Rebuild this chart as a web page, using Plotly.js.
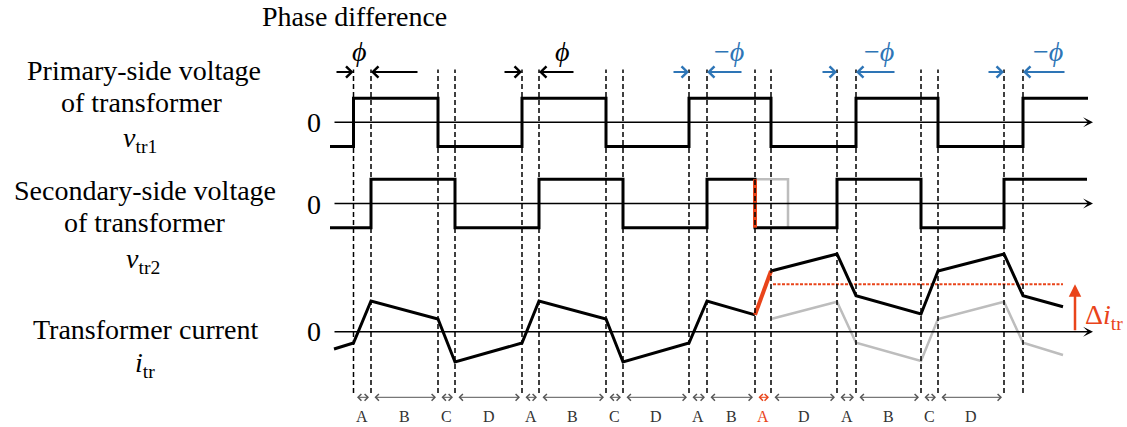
<!DOCTYPE html>
<html><head><meta charset="utf-8">
<script src="https://cdn.plot.ly/plotly-3.0.1.min.js"></script>
<style>html,body{margin:0;padding:0;background:#fff;}</style>
</head><body>
<div id="chart" style="width:1127px;height:427px;"></div>
<script>
// ---- data (time in arbitrary units, t = 0 at start of the traces) ----
const switchTimes = [23.5, 41, 108, 125, 192, 209, 276, 293, 359, 377, 425, 441, 507, 526, 591, 608, 674, 693];
const intervalLabels = ['A','B','C','D','A','B','C','D','A','B','A','D','A','B','C','D'];
const intervalHighlight = [0,0,0,0,0,0,0,0,0,0,1,0,0,0,0,0];

const vtr1Times  = [0, 23.5, 108, 192, 276, 359, 441, 526, 608, 693, 758];
const vtr1Levels = [-1, 1, -1, 1, -1, 1, -1, 1, -1, 1, 1];

const vtr2Times  = [0, 41, 125, 209, 293, 377, 425, 507, 591, 674, 757];
const vtr2Levels = [-1, 1, -1, 1, -1, 1, -1, 1, -1, 1, 1];
const vtr2StepTimes  = [425, 425];
const vtr2StepLevels = [1, -1];
const vtr2OrigTimes  = [425, 458, 458];
const vtr2OrigLevels = [1, 1, -1];

const itrTimes1  = [4, 23.5, 41, 108, 125, 192, 209, 276, 293, 359, 377, 425];
const itrValues1 = [-0.72, -0.47, 1.28, 0.53, -1.26, -0.47, 1.28, 0.53, -1.26, -0.47, 1.28, 0.70];
const itrStepTimes  = [425, 441];
const itrStepValues = [0.70, 2.53];
const itrTimes2  = [441, 507, 526, 591, 608, 674, 693, 733];
const itrValues2 = [2.53, 3.24, 1.50, 0.74, 2.53, 3.24, 1.50, 1.04];
const itrOrigValues = [0.53, 1.25, -0.46, -1.22, 0.53, 1.25, -0.46, -0.97];

const deltaTimes = [443, 733];
const deltaLevel = 1.975;
const deltaArrowTime = 745;

const phaseRightTail = [5, 173, 342, 491, 657];
const phaseRightHead = [23.5, 192, 359, 507, 674];
const phaseLeftTail  = [89, 245, 413, 566, 736];
const phaseLeftHead  = [41, 209, 377, 526, 693];
const phaseLabels    = ['<i>ϕ</i>', '<i>ϕ</i>', '−<i>ϕ</i>', '−<i>ϕ</i>', '−<i>ϕ</i>'];
const phaseLabelTimes = [29, 232, 399, 549, 718];
const phaseNegative  = [0, 0, 1, 1, 1];

const axisStart = 3, axisEnd = 763;

// ---- styling ----
const H = 427, W = 1127;
const BLUE = '#2e75b6', RED = '#e9441a', GREY = '#bdbdbd';
const FONT = 'Liberation Serif, Times New Roman, serif';
const py = p => 1 - p / H;

const traces = [];
function line(x, y, yax, color, width, extra) {
  traces.push(Object.assign({x: x, y: y, yaxis: yax, type: 'scatter', mode: 'lines',
    line: {color: color, width: width}, hoverinfo: 'skip', showlegend: false}, extra || {}));
}
// v_tr1
line(vtr1Times, vtr1Levels, 'y', '#000', 3, {line: {color: '#000', width: 3, shape: 'hv'}});
// v_tr2
line(vtr2OrigTimes, vtr2OrigLevels, 'y2', GREY, 2.5);
line(vtr2Times, vtr2Levels, 'y2', '#000', 3, {line: {color: '#000', width: 3, shape: 'hv'}});
line(vtr2StepTimes, vtr2StepLevels, 'y2', RED, 4);
// i_tr
line(itrTimes2, itrOrigValues, 'y3', GREY, 2.5);
line(deltaTimes, [deltaLevel, deltaLevel], 'y3', RED, 2, {line: {color: RED, width: 2, dash: '3px,1.5px'}});
line(itrTimes1, itrValues1, 'y3', '#000', 3);
line(itrTimes2, itrValues2, 'y3', '#000', 3);
line(itrStepTimes, itrStepValues, 'y3', RED, 4);

// dashed vertical lines
const shapes = switchTimes.map(t => ({type: 'line', xref: 'x', yref: 'paper', x0: t, x1: t,
  y0: py(393), y1: py(69.5), line: {color: '#000', width: 1.5, dash: '5px,3px'}}));

const annotations = [];
function txt(text, xp, ypx, size, color, extra) {
  annotations.push(Object.assign({text: text, xref: 'paper', yref: 'paper', x: xp / W, y: py(ypx),
    xanchor: 'center', yanchor: 'middle', showarrow: false,
    font: {family: FONT, size: size, color: color || '#000'}}, extra || {}));
}
// left labels
txt('Primary-side voltage', 144, 70.5, 28);
txt('of transformer', 142, 102, 28);
txt('<i>v</i><sub>tr1</sub>', 140, 140, 28);
txt('Secondary-side voltage', 145, 190.5, 28);
txt('of transformer', 145, 222, 28);
txt('<i>v</i><sub>tr2</sub>', 143, 260, 28);
txt('Transformer current', 145, 329, 28);
txt('<i>i</i><sub>tr</sub>', 145, 364, 28);
txt('0', 314, 122.5, 28);
txt('0', 314, 204, 28);
txt('0', 314, 331.5, 28);
txt('Phase difference', 354.5, 16.5, 28);

// axes with arrowheads
[['y', 0], ['y2', 0], ['y3', 0]].forEach(([yr, v]) => {
  annotations.push({xref: 'x', yref: yr, x: axisEnd, y: v, axref: 'x', ayref: 'pixel', ax: axisStart, ay: 0,
    text: '', showarrow: true, arrowhead: 3, arrowsize: 1.1, arrowwidth: 1.5, arrowcolor: '#000'});
});

// phase arrows and labels
for (let i = 0; i < phaseRightHead.length; i++) {
  const c = phaseNegative[i] ? BLUE : '#000';
  annotations.push({xref: 'x', yref: 'paper', x: phaseRightHead[i], y: py(72), axref: 'x', ayref: 'pixel',
    ax: phaseRightTail[i], ay: 0, text: '', showarrow: true, arrowhead: 4, arrowsize: 1.1, arrowwidth: 2, arrowcolor: c});
  annotations.push({xref: 'x', yref: 'paper', x: phaseLeftHead[i], y: py(72), axref: 'x', ayref: 'pixel',
    ax: phaseLeftTail[i], ay: 0, text: '', showarrow: true, arrowhead: 4, arrowsize: 1.1, arrowwidth: 2, arrowcolor: c});
  annotations.push({xref: 'x', yref: 'paper', x: phaseLabelTimes[i], y: py(51.5), showarrow: false,
    text: phaseLabels[i], xanchor: 'center', yanchor: 'middle',
    font: {family: FONT, size: 28, color: c}});
}

// interval arrows and labels
for (let i = 0; i < intervalLabels.length; i++) {
  const a = switchTimes[i], b = switchTimes[i + 1];
  const c = intervalHighlight[i] ? RED : '#555';
  annotations.push({xref: 'x', yref: 'paper', x: b, y: py(397.3), axref: 'x', ayref: 'pixel', ax: a, ay: 0,
    text: '', showarrow: true, arrowhead: 4, startarrowhead: 4, arrowside: 'end+start',
    arrowsize: 1.3, startarrowsize: 1.3, arrowwidth: 1, arrowcolor: c, standoff: 2, startstandoff: 2});
  annotations.push({xref: 'x', yref: 'paper', x: (a + b) / 2, y: py(416.5), showarrow: false,
    text: intervalLabels[i], xanchor: 'center', yanchor: 'middle',
    font: {family: FONT, size: 16, color: intervalHighlight[i] ? RED : '#333'}});
}

// delta i arrow and label
annotations.push({xref: 'x', yref: 'y3', x: deltaArrowTime, y: deltaLevel, axref: 'x', ayref: 'y3',
  ax: deltaArrowTime, ay: 0, text: '', showarrow: true, arrowhead: 2, arrowsize: 1, arrowwidth: 2.5, arrowcolor: RED});
annotations.push({xref: 'x', yref: 'y3', x: deltaArrowTime + 8, y: 0.62, showarrow: false,
  text: 'Δ<i>i</i><sub>tr</sub>', xanchor: 'left', yanchor: 'middle',
  font: {family: FONT, size: 28, color: RED}});

function yr(z, s) { return [(z - H) / s, z / s]; }
const axOff = {visible: false, fixedrange: true};
const layout = {
  width: W, height: H, margin: {l: 0, r: 0, t: 0, b: 0},
  paper_bgcolor: '#fff', plot_bgcolor: '#fff', showlegend: false,
  xaxis: Object.assign({range: [-330, 797]}, axOff),
  yaxis: Object.assign({range: yr(122.3, 24.15), domain: [0, 1]}, axOff),
  yaxis2: Object.assign({range: yr(203.5, 24.2), overlaying: 'y'}, axOff),
  yaxis3: Object.assign({range: yr(331.7, 24), overlaying: 'y'}, axOff),
  shapes: shapes, annotations: annotations
};
Plotly.newPlot('chart', traces, layout, {staticPlot: true, displayModeBar: false});
</script>
</body></html>
